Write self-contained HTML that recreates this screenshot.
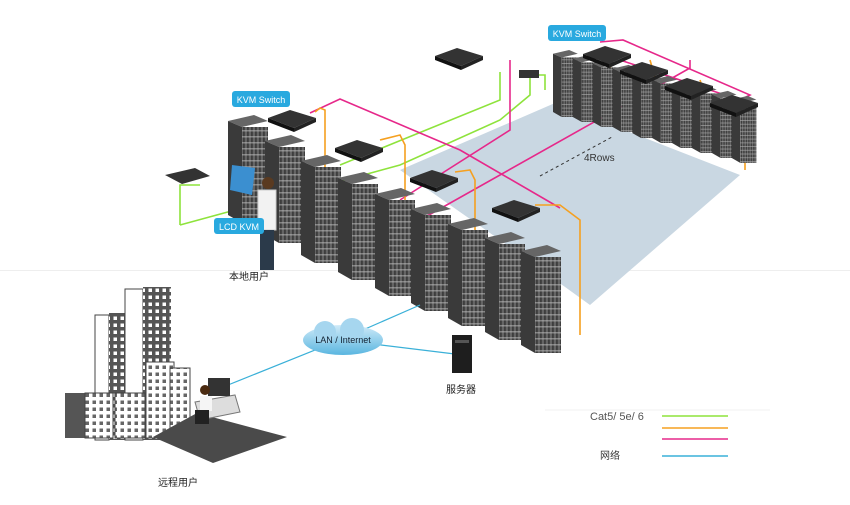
<!DOCTYPE html>
<html><head><meta charset="utf-8"><style>
body{margin:0;background:#fff;width:850px;height:500px;overflow:hidden;font-family:"Liberation Sans","Noto Sans CJK SC",sans-serif}
</style></head><body>
<svg width="850" height="500" viewBox="0 0 850 500" xmlns="http://www.w3.org/2000/svg" font-family="Liberation Sans, Noto Sans CJK SC, sans-serif">
<defs>
<linearGradient id="rf" x1="0" x2="1"><stop offset="0" stop-color="#333"/><stop offset=".5" stop-color="#777"/><stop offset="1" stop-color="#2a2a2a"/></linearGradient>
<pattern id="st" width="4" height="6" patternUnits="userSpaceOnUse"><rect width="4" height="6" fill="url(#rf)"/><rect y="3" width="4" height="1.5" fill="#bbb" opacity=".55"/></pattern>
<pattern id="win" width="7" height="7" patternUnits="userSpaceOnUse"><rect width="7" height="7" fill="#555"/><rect x="1.5" y="1.5" width="3.5" height="3.5" fill="#fff"/></pattern>
<pattern id="win2" width="7" height="7" patternUnits="userSpaceOnUse"><rect width="7" height="7" fill="#fff"/><rect x="1.5" y="1.5" width="3.5" height="3.5" fill="#666"/></pattern>
<g id="rack">
<polygon points="0,6 26,0 40,6 14,12" fill="#666"/>
<polygon points="0,6 14,12 14,108 0,100" fill="#3a3a3a"/>
<rect x="14" y="12" width="26" height="96" fill="url(#st)"/>
</g>
<g id="sw"><polygon points="0,8 22,0 48,8 26,18" fill="#333"/><polygon points="0,8 26,18 26,22 0,12" fill="#111"/><polygon points="26,18 48,8 48,12 26,22" fill="#222"/></g>
<linearGradient id="cl" x1="0" y1="0" x2="0" y2="1"><stop offset="0" stop-color="#cfeaf8"/><stop offset="1" stop-color="#5ab6e0"/></linearGradient>
</defs>
<rect x="0" y="270" width="850" height="1" fill="#eee"/>
<polygon points="400,170 555,103 740,175 590,305 500,240" fill="#c9d7e2"/>
<line x1="540" y1="176" x2="612" y2="137" stroke="#333" stroke-dasharray="3,3"/>
<text x="584" y="161" font-size="10" fill="#333">4Rows</text>
<g fill="none" stroke-width="1.6">
<polyline points="180,225 180,185 200,185" stroke="#8ee33c"/>
<polyline points="180,225 400,165 500,120 530,95 530,75 545,75 545,90" stroke="#8ee33c"/>
<polyline points="500,72 500,100 340,165" stroke="#8ee33c"/>
<polyline points="310,113 340,99 460,150 560,208" stroke="#e6288a"/>
<polyline points="510,60 510,130 400,200" stroke="#e6288a"/>
<polyline points="600,42 623,40 750,95 740,100 620,60" stroke="#e6288a"/>
<polyline points="690,60 690,68 420,220" stroke="#e6288a"/>
<polyline points="315,112 320,108 325,110 325,195" stroke="#f5a020"/>
<polyline points="380,140 400,135 405,145 405,210" stroke="#f5a020"/>
<polyline points="455,172 470,170 475,180 475,235" stroke="#f5a020"/>
<polyline points="535,205 560,205 580,220 580,335" stroke="#f5a020"/>
<polyline points="610,60 612,90" stroke="#f5a020"/>
<polyline points="650,60 660,95" stroke="#f5a020"/>
<polyline points="700,80 710,110" stroke="#f5a020"/>
<polyline points="735,100 745,110 745,170" stroke="#f5a020"/>
</g>
<g transform="translate(553,50) scale(0.62)">
<use href="#rack" x="0" y="0"/><use href="#rack" x="32" y="8"/><use href="#rack" x="64" y="16"/><use href="#rack" x="96" y="24"/><use href="#rack" x="128" y="34"/><use href="#rack" x="160" y="42"/><use href="#rack" x="192" y="50"/><use href="#rack" x="224" y="58"/><use href="#rack" x="256" y="66"/><use href="#rack" x="288" y="74"/>
</g>
<use href="#sw" x="583" y="46"/>
<use href="#sw" x="620" y="62"/><use href="#sw" x="665" y="78"/><use href="#sw" x="710" y="95"/>
<use href="#sw" x="435" y="48"/>
<rect x="519" y="70" width="20" height="8" fill="#333"/>
<use href="#rack" x="228" y="115"/><use href="#rack" x="265" y="135"/><use href="#rack" x="301" y="155"/><use href="#rack" x="338" y="172"/><use href="#rack" x="375" y="188"/><use href="#rack" x="411" y="203"/><use href="#rack" x="448" y="218"/><use href="#rack" x="485" y="232"/><use href="#rack" x="521" y="245"/>
<use href="#sw" x="268" y="110"/><use href="#sw" x="335" y="140"/><use href="#sw" x="410" y="170"/><use href="#sw" x="492" y="200"/>
<polygon points="165,175 195,168 210,176 182,184" fill="#333"/>
<polygon points="232,165 255,168 252,195 230,190" fill="#3b8fd0"/>
<circle cx="268" cy="183" r="6" fill="#5a3a20"/>
<rect x="258" y="190" width="18" height="40" fill="#f2f2f2" stroke="#ccc"/>
<rect x="260" y="230" width="14" height="40" fill="#2b3a4a"/>
<rect x="232" y="91" width="58" height="16" rx="3" fill="#29a9df"/><text x="261" y="103" font-size="9" fill="#fff" text-anchor="middle">KVM Switch</text>
<rect x="548" y="25" width="58" height="16" rx="3" fill="#29a9df"/><text x="577" y="37" font-size="9" fill="#fff" text-anchor="middle">KVM Switch</text>
<rect x="214" y="218" width="50" height="16" rx="3" fill="#29a9df"/><text x="239" y="230" font-size="9" fill="#fff" text-anchor="middle">LCD KVM</text>
<text x="229" y="280" font-size="10" fill="#222">本地用户</text>
<polyline points="228,385 340,340 463,355" fill="none" stroke="#3ab0d8" stroke-width="1.2"/>
<line x1="340" y1="340" x2="420" y2="305" stroke="#3ab0d8" stroke-width="1.2"/>
<ellipse cx="343" cy="340" rx="40" ry="15" fill="url(#cl)"/>
<circle cx="325" cy="332" r="11" fill="#a6d6ef"/><circle cx="352" cy="330" r="12" fill="#a6d6ef"/>
<text x="343" y="343" font-size="9" fill="#123" text-anchor="middle">LAN / Internet</text>
<rect x="452" y="335" width="20" height="38" fill="#1e1e1e"/><rect x="455" y="340" width="14" height="3" fill="#555"/>
<text x="446" y="393" font-size="10" fill="#222">服务器</text>
<!-- buildings -->
<rect x="95" y="315" width="14" height="125" fill="#fff" stroke="#444"/>
<rect x="109" y="313" width="28" height="127" fill="url(#win)"/>
<rect x="125" y="289" width="18" height="151" fill="#fff" stroke="#444"/>
<rect x="143" y="287" width="28" height="153" fill="url(#win)"/>
<rect x="65" y="393" width="20" height="45" fill="#555"/>
<rect x="85" y="393" width="28" height="45" fill="url(#win2)" stroke="#444"/>
<rect x="115" y="393" width="30" height="45" fill="url(#win2)" stroke="#444"/>
<rect x="146" y="362" width="28" height="76" fill="url(#win2)" stroke="#444"/>
<rect x="170" y="368" width="20" height="60" fill="url(#win2)" stroke="#444"/>
<polygon points="153,437 197,413 287,437 213,463" fill="#4a4a4a"/>
<polygon points="195,402 235,395 240,412 200,420" fill="#ddd" stroke="#777"/>
<rect x="208" y="378" width="22" height="18" fill="#333"/>
<circle cx="205" cy="390" r="5" fill="#4a2a10"/>
<rect x="200" y="396" width="12" height="15" fill="#f5f5f5"/>
<rect x="195" y="410" width="14" height="14" fill="#222"/>
<text x="158" y="486" font-size="10" fill="#222">远程用户</text>
<line x1="545" y1="410" x2="770" y2="410" stroke="#f2f2f2"/>
<text x="590" y="420" font-size="11" fill="#555">Cat5/ 5e/ 6</text>
<line x1="662" y1="416" x2="728" y2="416" stroke="#8ee33c" stroke-width="1.6"/>
<line x1="662" y1="428" x2="728" y2="428" stroke="#f5a020" stroke-width="1.6"/>
<line x1="662" y1="439" x2="728" y2="439" stroke="#e6288a" stroke-width="1.6"/>
<text x="600" y="459" font-size="10" fill="#333">网络</text>
<line x1="662" y1="456" x2="728" y2="456" stroke="#3ab0d8" stroke-width="1.6"/>
</svg>
</body></html>
